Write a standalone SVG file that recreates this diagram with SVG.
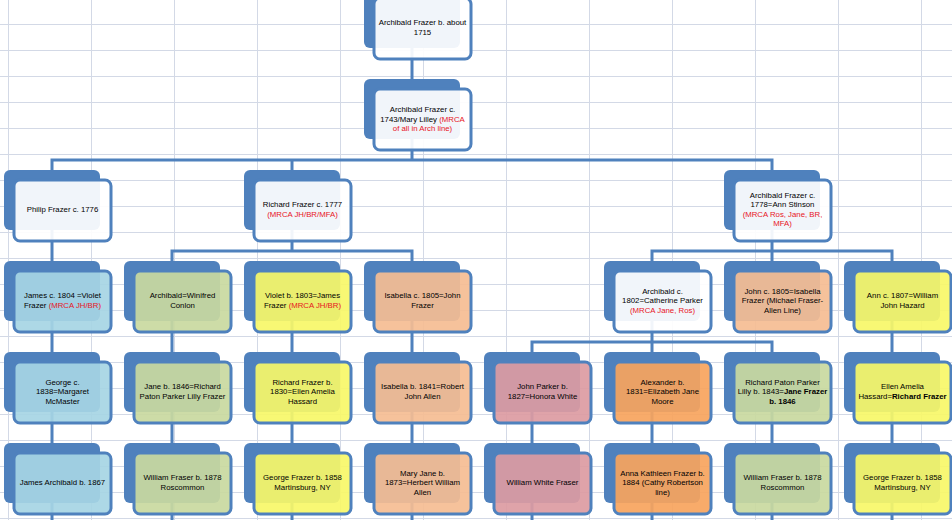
<svg xmlns="http://www.w3.org/2000/svg" width="952" height="520" viewBox="0 0 952 520">
<style>
.gl{stroke:#d3d9e6;stroke-width:1}
.bk{fill:#4f81bd}
.fr{stroke:#4f81bd;stroke-width:3;fill-opacity:0.92}
.w{fill:#ffffff}.b{fill:#a6d5e4}.gr{fill:#c9d9a0}.y{fill:#f7f768}.p{fill:#f5bd93}.k{fill:#dc9ba2}.o{fill:#f7a45d}
.t{font-family:"Liberation Sans",Arial,sans-serif;font-size:7.8px;fill:#000000;text-anchor:middle}
.r{fill:#e8141e}
.bd{font-weight:bold}
.c{fill:none;stroke:#4f81bd;stroke-width:3}
</style>
<rect width="952" height="520" fill="#ffffff"/>
<g id="grid">
<path class="gl" d="M8.5 0V520M91.5 0V520M174.5 0V520M257.5 0V520M340.5 0V520M423.5 0V520M506.5 0V520M589.5 0V520M672.5 0V520M755.5 0V520M838.5 0V520M921.5 0V520"/>
<path class="gl" d="M0 24.5H952M0 50.5H952M0 76.5H952M0 102.5H952M0 128.5H952M0 154.5H952M0 180.5H952M0 206.5H952M0 232.5H952M0 258.5H952M0 284.5H952M0 310.5H952M0 336.5H952M0 362.5H952M0 388.5H952M0 414.5H952M0 440.5H952M0 466.5H952M0 492.5H952M0 518.5H952"/>
</g>
<g id="connectors">
<path class="c" d="M412 18V79"/>
<path class="c" d="M412 109V160M52 170V160H772V170M292 160V170"/>
<path class="c" d="M52 200V261"/>
<path class="c" d="M292 200V251M172 261V251H412V261"/>
<path class="c" d="M772 200V251M652 261V251H892V261M772 251V261"/>
<path class="c" d="M52 291V352M172 291V352M292 291V352M412 291V352M892 291V352"/>
<path class="c" d="M652 291V342M532 352V342H772V352M652 342V352"/>
<path class="c" d="M52 382V443M172 382V443M292 382V443M412 382V443M532 382V443M652 382V443M772 382V443M892 382V443"/>
<path class="c" d="M52 473V520M172 473V520M292 473V520M412 473V520M532 473V520M652 473V520M772 473V520M892 473V520"/>
</g>
<g id="n-archibald-1715"><rect class="bk" x="364" y="-12" width="96" height="60" rx="6"/><rect class="fr w" x="374" y="-2" width="97" height="61" rx="6"/>
<text class="t"><tspan x="422.5" y="25.4">Archibald Frazer b. about</tspan><tspan x="422.5" y="34.9">1715</tspan></text></g>
<g id="n-archibald-1743"><rect class="bk" x="364" y="79" width="96" height="60" rx="6"/><rect class="fr w" x="374" y="89" width="97" height="61" rx="6"/>
<text class="t"><tspan x="422.5" y="112.2">Archibald Frazer c.</tspan><tspan x="422.5" y="121.7">1743/Mary Lilley <tspan class="r">(MRCA</tspan></tspan><tspan class="r" x="422.5" y="131.2">of all in Arch line)</tspan></text></g>
<g id="n-philip-1776"><rect class="bk" x="4" y="170" width="96" height="60" rx="6"/><rect class="fr w" x="14" y="180" width="97" height="61" rx="6"/>
<text class="t"><tspan x="62.5" y="212.2">Philip Frazer c. 1776</tspan></text></g>
<g id="n-richard-1777"><rect class="bk" x="244" y="170" width="96" height="60" rx="6"/><rect class="fr w" x="254" y="180" width="97" height="61" rx="6"/>
<text class="t"><tspan x="302.5" y="207.4">Richard Frazer c. 1777</tspan><tspan class="r" x="302.5" y="216.9">(MRCA JH/BR/MFA)</tspan></text></g>
<g id="n-archibald-1778"><rect class="bk" x="724" y="170" width="96" height="60" rx="6"/><rect class="fr w" x="734" y="180" width="97" height="61" rx="6"/>
<text class="t"><tspan x="782.5" y="197.9">Archibald Frazer c.</tspan><tspan x="782.5" y="207.4">1778=Ann Stinson</tspan><tspan class="r" x="782.5" y="216.9">(MRCA Ros, Jane, BR,</tspan><tspan class="r" x="782.5" y="226.4">MFA)</tspan></text></g>
<g id="n-james-1804"><rect class="bk" x="4" y="261" width="96" height="60" rx="6"/><rect class="fr b" x="14" y="271" width="97" height="61" rx="6"/>
<text class="t"><tspan x="62.5" y="298.4">James c. 1804 =Violet</tspan><tspan x="62.5" y="307.9">Frazer <tspan class="r">(MRCA JH/BR)</tspan></tspan></text></g>
<g id="n-archibald-winifred"><rect class="bk" x="124" y="261" width="96" height="60" rx="6"/><rect class="fr gr" x="134" y="271" width="97" height="61" rx="6"/>
<text class="t"><tspan x="182.5" y="298.4">Archibald=Winifred</tspan><tspan x="182.5" y="307.9">Conlon</tspan></text></g>
<g id="n-violet-1803"><rect class="bk" x="244" y="261" width="96" height="60" rx="6"/><rect class="fr y" x="254" y="271" width="97" height="61" rx="6"/>
<text class="t"><tspan x="302.5" y="298.4">Violet b. 1803=James</tspan><tspan x="302.5" y="307.9">Frazer <tspan class="r">(MRCA JH/BR)</tspan></tspan></text></g>
<g id="n-isabella-1805"><rect class="bk" x="364" y="261" width="96" height="60" rx="6"/><rect class="fr p" x="374" y="271" width="97" height="61" rx="6"/>
<text class="t"><tspan x="422.5" y="298.4">Isabella c. 1805=John</tspan><tspan x="422.5" y="307.9">Frazer</tspan></text></g>
<g id="n-archibald-1802"><rect class="bk" x="604" y="261" width="96" height="60" rx="6"/><rect class="fr w" x="614" y="271" width="97" height="61" rx="6"/>
<text class="t"><tspan x="662.5" y="293.7">Archibald c.</tspan><tspan x="662.5" y="303.2">1802=Catherine Parker</tspan><tspan class="r" x="662.5" y="312.7">(MRCA Jane, Ros)</tspan></text></g>
<g id="n-john-1805"><rect class="bk" x="724" y="261" width="96" height="60" rx="6"/><rect class="fr p" x="734" y="271" width="97" height="61" rx="6"/>
<text class="t"><tspan x="782.5" y="293.7">John c. 1805=Isabella</tspan><tspan x="782.5" y="303.2">Frazer (Michael Fraser-</tspan><tspan x="782.5" y="312.7">Allen Line)</tspan></text></g>
<g id="n-ann-1807"><rect class="bk" x="844" y="261" width="96" height="60" rx="6"/><rect class="fr y" x="854" y="271" width="97" height="61" rx="6"/>
<text class="t"><tspan x="902.5" y="298.4">Ann c. 1807=William</tspan><tspan x="902.5" y="307.9">John Hazard</tspan></text></g>
<g id="n-george-1838"><rect class="bk" x="4" y="352" width="96" height="60" rx="6"/><rect class="fr b" x="14" y="362" width="97" height="61" rx="6"/>
<text class="t"><tspan x="62.5" y="384.7">George c.</tspan><tspan x="62.5" y="394.2">1838=Margaret</tspan><tspan x="62.5" y="403.7">McMaster</tspan></text></g>
<g id="n-jane-1846"><rect class="bk" x="124" y="352" width="96" height="60" rx="6"/><rect class="fr gr" x="134" y="362" width="97" height="61" rx="6"/>
<text class="t"><tspan x="182.5" y="389.4">Jane b. 1846=Richard</tspan><tspan x="182.5" y="398.9">Paton Parker Lilly Frazer</tspan></text></g>
<g id="n-richard-1830"><rect class="bk" x="244" y="352" width="96" height="60" rx="6"/><rect class="fr y" x="254" y="362" width="97" height="61" rx="6"/>
<text class="t"><tspan x="302.5" y="384.7">Richard Frazer b.</tspan><tspan x="302.5" y="394.2">1830=Ellen Amelia</tspan><tspan x="302.5" y="403.7">Hassard</tspan></text></g>
<g id="n-isabella-1841"><rect class="bk" x="364" y="352" width="96" height="60" rx="6"/><rect class="fr p" x="374" y="362" width="97" height="61" rx="6"/>
<text class="t"><tspan x="422.5" y="389.4">Isabella b. 1841=Robert</tspan><tspan x="422.5" y="398.9">John Allen</tspan></text></g>
<g id="n-john-parker-1827"><rect class="bk" x="484" y="352" width="96" height="60" rx="6"/><rect class="fr k" x="494" y="362" width="97" height="61" rx="6"/>
<text class="t"><tspan x="542.5" y="389.4">John Parker b.</tspan><tspan x="542.5" y="398.9">1827=Honora White</tspan></text></g>
<g id="n-alexander-1831"><rect class="bk" x="604" y="352" width="96" height="60" rx="6"/><rect class="fr o" x="614" y="362" width="97" height="61" rx="6"/>
<text class="t"><tspan x="662.5" y="384.7">Alexander b.</tspan><tspan x="662.5" y="394.2">1831=Elizabeth Jane</tspan><tspan x="662.5" y="403.7">Moore</tspan></text></g>
<g id="n-richard-paton-1843"><rect class="bk" x="724" y="352" width="96" height="60" rx="6"/><rect class="fr gr" x="734" y="362" width="97" height="61" rx="6"/>
<text class="t"><tspan x="782.5" y="384.7">Richard Paton Parker</tspan><tspan x="782.5" y="394.2">Lilly b. 1843=<tspan class="bd">Jane Frazer</tspan></tspan><tspan class="bd" x="782.5" y="403.7">b. 1846</tspan></text></g>
<g id="n-ellen-amelia"><rect class="bk" x="844" y="352" width="96" height="60" rx="6"/><rect class="fr y" x="854" y="362" width="97" height="61" rx="6"/>
<text class="t"><tspan x="902.5" y="389.4">Ellen Amelia</tspan><tspan x="902.5" y="398.9">Hassard=<tspan class="bd">Richard Frazer</tspan></tspan></text></g>
<g id="n-james-archibald-1867"><rect class="bk" x="4" y="443" width="96" height="60" rx="6"/><rect class="fr b" x="14" y="453" width="97" height="61" rx="6"/>
<text class="t"><tspan x="62.5" y="485.2">James Archibald b. 1867</tspan></text></g>
<g id="n-william-1878-a"><rect class="bk" x="124" y="443" width="96" height="60" rx="6"/><rect class="fr gr" x="134" y="453" width="97" height="61" rx="6"/>
<text class="t"><tspan x="182.5" y="480.4">William Fraser b. 1878</tspan><tspan x="182.5" y="489.9">Roscommon</tspan></text></g>
<g id="n-george-1858-a"><rect class="bk" x="244" y="443" width="96" height="60" rx="6"/><rect class="fr y" x="254" y="453" width="97" height="61" rx="6"/>
<text class="t"><tspan x="302.5" y="480.4">George Frazer b. 1858</tspan><tspan x="302.5" y="489.9">Martinsburg, NY</tspan></text></g>
<g id="n-mary-jane-1873"><rect class="bk" x="364" y="443" width="96" height="60" rx="6"/><rect class="fr p" x="374" y="453" width="97" height="61" rx="6"/>
<text class="t"><tspan x="422.5" y="475.7">Mary Jane b.</tspan><tspan x="422.5" y="485.2">1873=Herbert William</tspan><tspan x="422.5" y="494.7">Allen</tspan></text></g>
<g id="n-william-white"><rect class="bk" x="484" y="443" width="96" height="60" rx="6"/><rect class="fr k" x="494" y="453" width="97" height="61" rx="6"/>
<text class="t"><tspan x="542.5" y="485.2">William White Fraser</tspan></text></g>
<g id="n-anna-kathleen-1884"><rect class="bk" x="604" y="443" width="96" height="60" rx="6"/><rect class="fr o" x="614" y="453" width="97" height="61" rx="6"/>
<text class="t"><tspan x="662.5" y="475.7">Anna Kathleen Frazer b.</tspan><tspan x="662.5" y="485.2">1884 (Cathy Robertson</tspan><tspan x="662.5" y="494.7">line)</tspan></text></g>
<g id="n-william-1878-b"><rect class="bk" x="724" y="443" width="96" height="60" rx="6"/><rect class="fr gr" x="734" y="453" width="97" height="61" rx="6"/>
<text class="t"><tspan x="782.5" y="480.4">William Fraser b. 1878</tspan><tspan x="782.5" y="489.9">Roscommon</tspan></text></g>
<g id="n-george-1858-b"><rect class="bk" x="844" y="443" width="96" height="60" rx="6"/><rect class="fr y" x="854" y="453" width="97" height="61" rx="6"/>
<text class="t"><tspan x="902.5" y="480.4">George Frazer b. 1858</tspan><tspan x="902.5" y="489.9">Martinsburg, NY</tspan></text></g>
</svg>
